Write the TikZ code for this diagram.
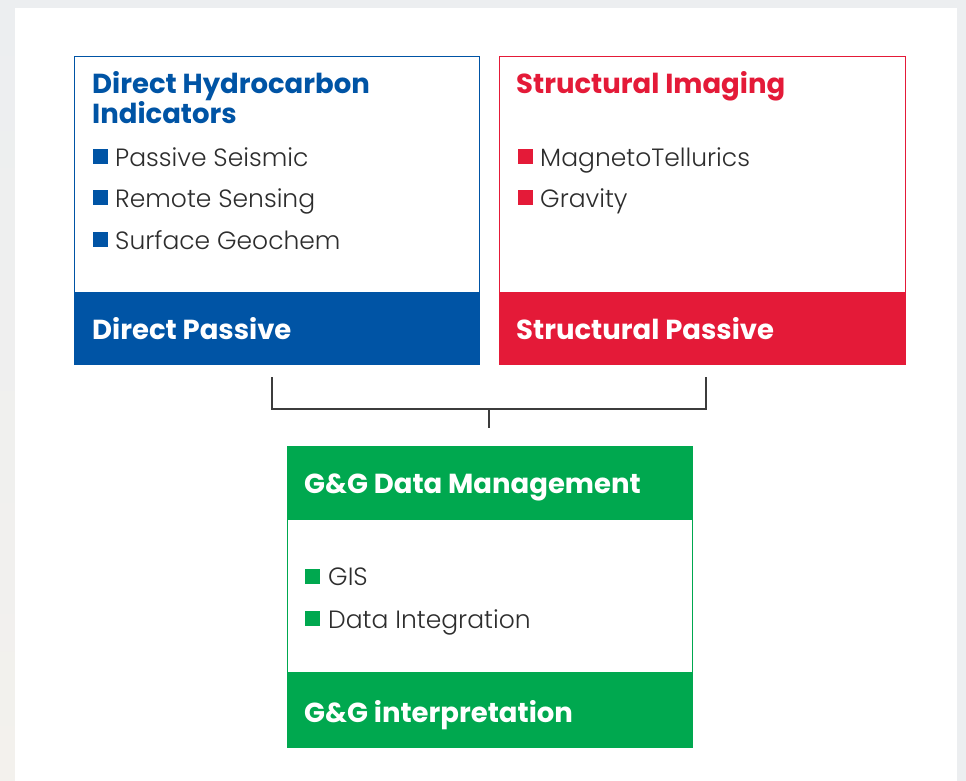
\documentclass[tikz,border=0pt]{standalone}
\usepackage{fontspec}
\setmainfont{Poppins}
\newfontfamily\lightf{Poppins Light}
\newfontfamily\boldf{Poppins Bold}
\definecolor{cblue}{RGB}{0,84,165}
\definecolor{cred}{RGB}{228,26,56}
\definecolor{cgreen}{RGB}{0,168,79}
\definecolor{ctext}{RGB}{45,45,45}
\definecolor{cbg}{RGB}{236,238,240}
\definecolor{cleft}{RGB}{243,241,237}
\definecolor{cline}{RGB}{60,60,60}
\tikzset{
  frame/.style={draw=#1, line width=1.2pt, fill=white, anchor=north west, inner sep=0pt},
  band/.style={fill=#1, draw=none, anchor=north west, inner sep=0pt},
  title/.style={anchor=base west, inner sep=0pt, font=\boldf\fontsize{27.5}{30}\selectfont, text=#1, align=left},
  item/.style={anchor=base west, inner sep=0pt, font=\lightf\fontsize{25}{28}\selectfont, text=ctext},
  bullet/.style={fill=#1, draw=none, anchor=north west, inner sep=0pt, minimum width=15pt, minimum height=15pt},
  conn/.style={draw=cline, line width=1.5pt}
}
\begin{document}
\begin{tikzpicture}[x=1pt,y=-1pt]
\fill[cbg] (0,0) rectangle (966,781);
\shade[top color=cbg, bottom color=cleft] (0,0) rectangle (15,781);
\fill[white] (15,8) rectangle (957,781);
\useasboundingbox (0,0) rectangle (966,781);
% blue box
\node[frame=cblue, minimum width=405pt, minimum height=308pt] (dhi) at (74,56) {};
\node[band=cblue, minimum width=405pt, minimum height=72pt] (dp) at (74,292) {};
\node[title=cblue] (dhit) at (92,94) {Direct Hydrocarbon};
\node[title=cblue] (dhit2) at (92,124) {Indicators};
\node[bullet=cblue] (b1) at (93,149) {};
\node[item] (i1) at (115,166) {Passive Seismic};
\node[bullet=cblue] (b2) at (93,190) {};
\node[item] (i2) at (115,207) {Remote Sensing};
\node[bullet=cblue] (b3) at (93,232) {};
\node[item] (i3) at (115,249) {Surface Geochem};
\node[title=white] (dpt) at (92,339) {Direct Passive};
% red box
\node[frame=cred, minimum width=406pt, minimum height=308pt] (si) at (499,56) {};
\node[band=cred, minimum width=406pt, minimum height=72pt] (sp) at (499,292) {};
\node[title=cred] (sit) at (516,94) {Structural Imaging};
\node[bullet=cred] (b4) at (518,149) {};
\node[item] (i4) at (540,166) {MagnetoTellurics};
\node[bullet=cred] (b5) at (518,190) {};
\node[item] (i5) at (540,207) {Gravity};
\node[title=white] (spt) at (516,339) {Structural Passive};
% green box
\node[frame=cgreen, minimum width=405pt, minimum height=301pt] (gg) at (287,446) {};
\node[band=cgreen, minimum width=405pt, minimum height=74pt] (gdm) at (287,446) {};
\node[band=cgreen, minimum width=405pt, minimum height=75pt] (gin) at (287,672) {};
\node[title=white] (gdmt) at (304,493) {G\&G Data Management};
\node[bullet=cgreen] (b6) at (305,569) {};
\node[item] (i6) at (328,585) {GIS};
\node[bullet=cgreen] (b7) at (305,611) {};
\node[item] (i7) at (328,628) {Data Integration};
\node[title=white] (gint) at (304,722) {G\&G interpretation};
% connector
\coordinate (cl) at (272,377);
\coordinate (cr) at (706,377);
\coordinate (cm) at (489,409);
\coordinate (cb) at (489,428);
\draw[conn] (cl) |- (cm) -| (cr);
\draw[conn] (cm) -- (cb);
\end{tikzpicture}
\end{document}
